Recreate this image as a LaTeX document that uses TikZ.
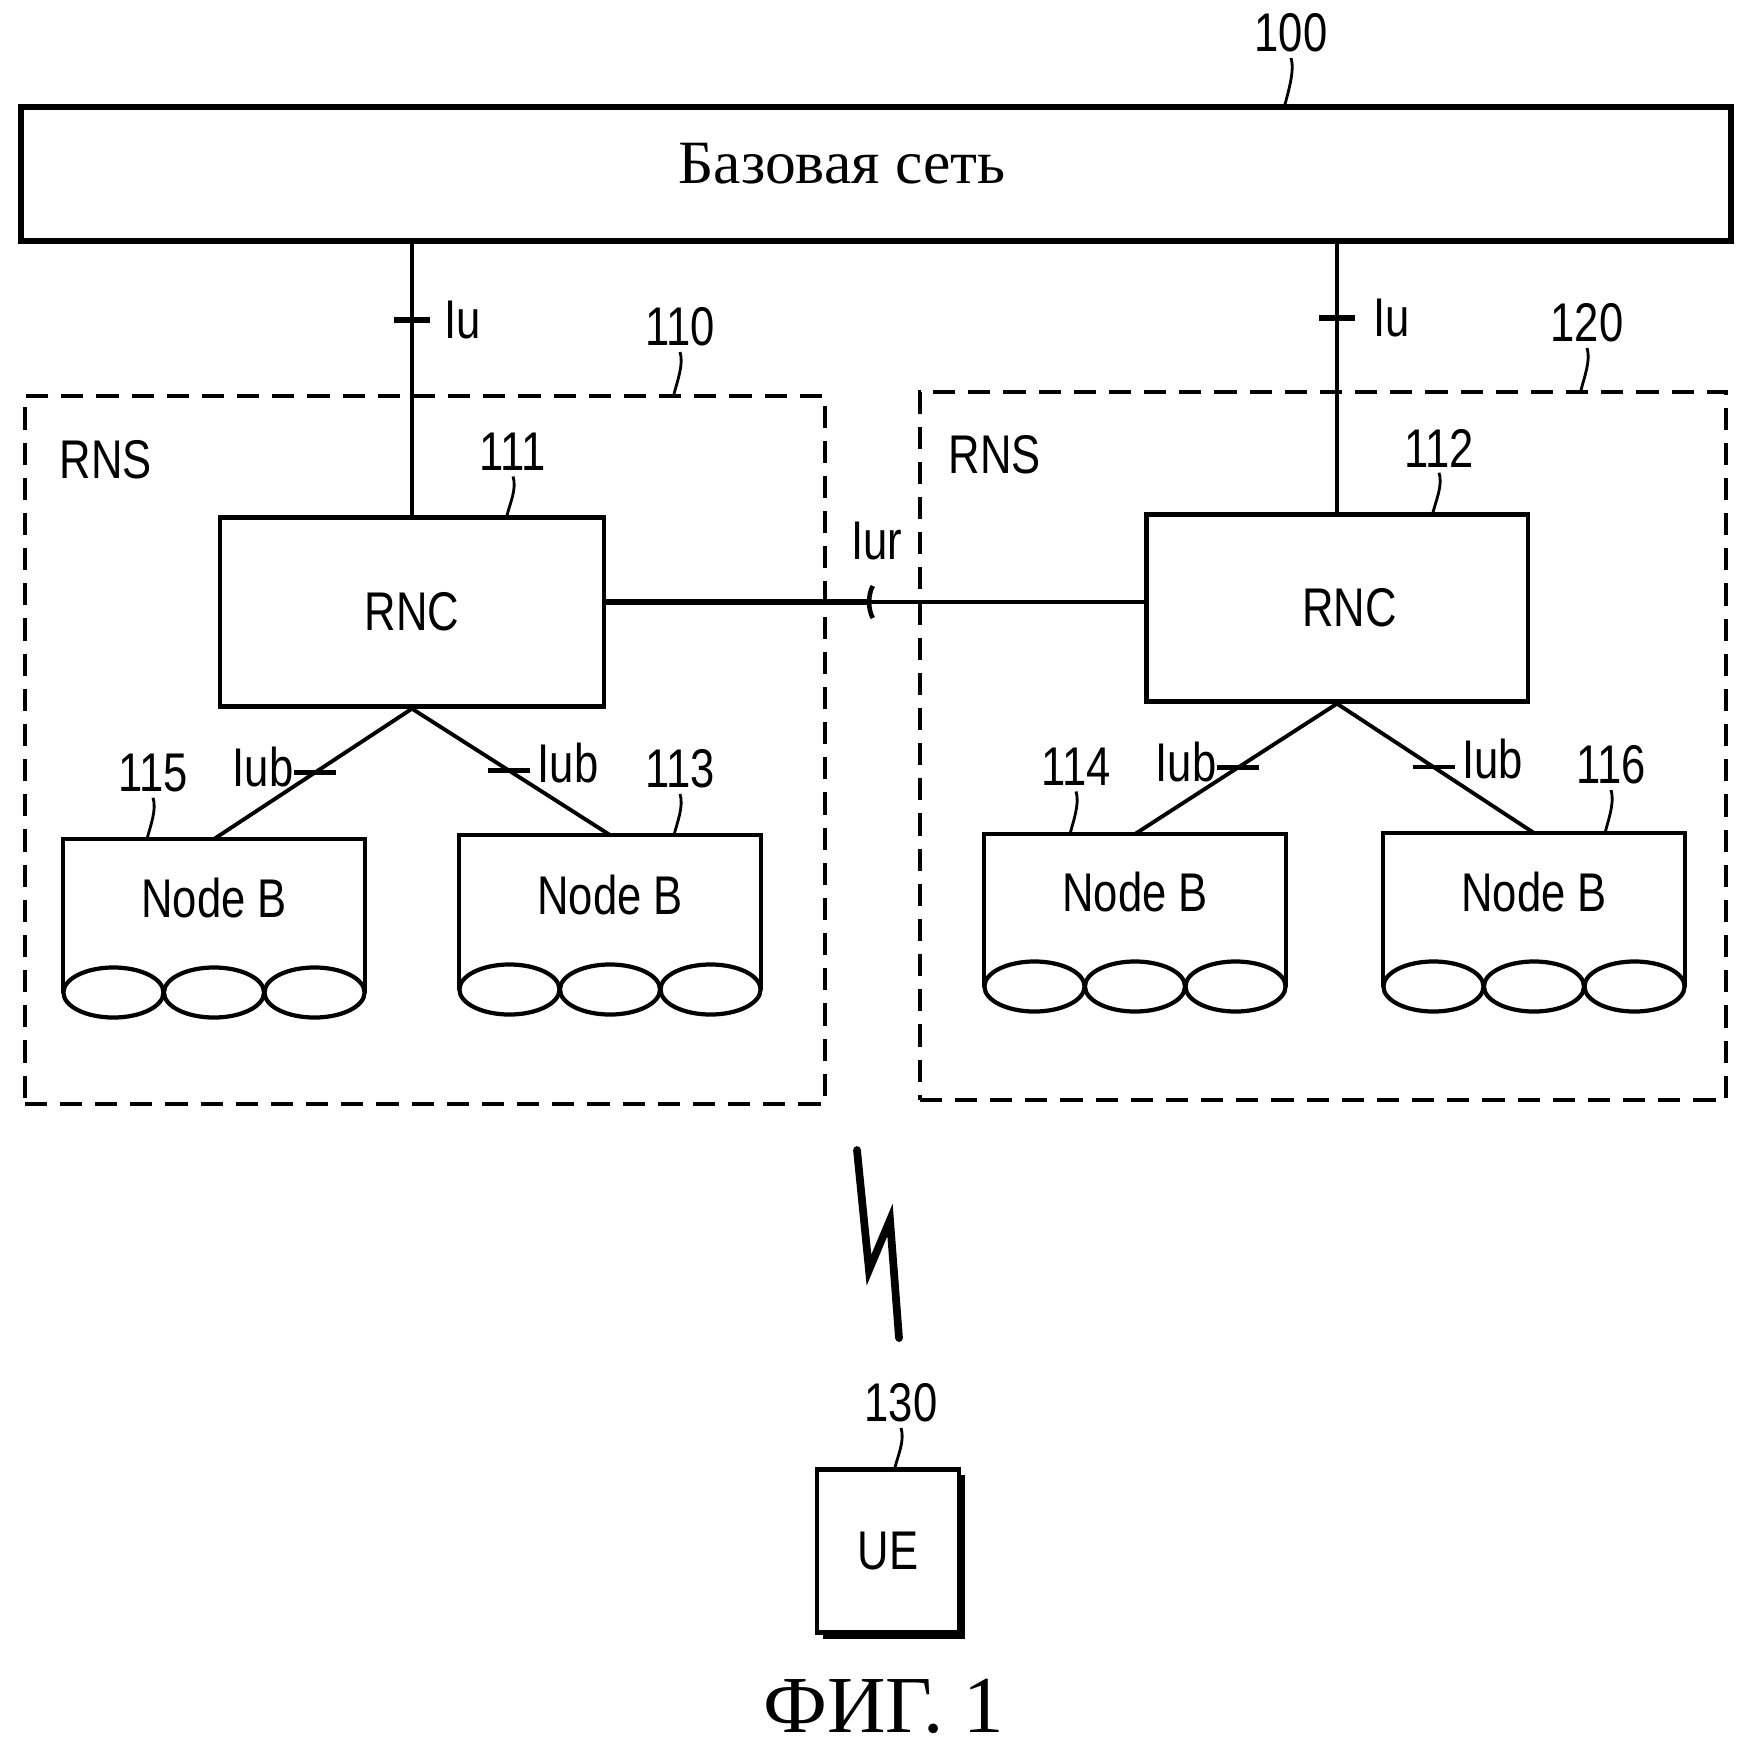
\documentclass[tikz,border=0pt]{standalone}
\usepackage{fontspec}
\setmainfont{Liberation Serif}
\newfontfamily\labfont[FakeStretch=0.8]{Liberation Sans}
\usetikzlibrary{calc,shadows}
\newcommand\leadr[2]{\draw[leader] ($(#1.south)+(0,5)$) .. controls +(4,12) and +(3,-12) .. ($(#1.south |- #2.north)+(-6,0)$);}
\begin{document}
\begin{tikzpicture}[x=0.01cm,y=-0.01cm,
  lab/.style={font=\labfont\fontsize{15.5}{18}\selectfont, inner sep=0pt},
  box/.style={draw, line width=1.2pt, inner sep=0pt},
  rns/.style={draw, line width=1pt, dash pattern=on 6.3pt off 3.7pt, inner sep=0pt},
  wire/.style={line width=0.9pt},
  wireb/.style={line width=1.1pt},
  tickm/.style={line width=1.3pt},
  leader/.style={line width=0.8pt},
  nbline/.style={line width=1.2pt},
  nbbody/.style={inner sep=0pt, minimum width=3cm, minimum height=1.52cm, anchor=north}
]
\useasboundingbox (0,0) rectangle (1744,1748);

% core network
\node[box, line width=1.7pt, minimum width=17.09cm, minimum height=1.33cm] (core) at (876,174) {};
\node[font=\fontsize{17.5}{20}\selectfont, inner sep=0pt] (coretext) at (842,164) {Базовая сеть};
\node[lab] (l100) at (1291,33) {100};
\leadr{l100}{core}

% RNS boxes
\node[rns, minimum width=8cm, minimum height=7.08cm] (rns1) at (425,750) {};
\node[rns, minimum width=8.06cm, minimum height=7.08cm] (rns2) at (1323,746) {};
\node[lab, anchor=west] (rnslab1) at (59,460) {RNS};
\node[lab, anchor=west] (rnslab2) at (948,455) {RNS};
\node[lab] (l110) at (680,327) {110};
\node[lab] (l120) at (1587,323) {120};
\leadr{l110}{rns1}
\leadr{l120}{rns2}

% RNCs
\node[box, lab, minimum width=3.84cm, minimum height=1.89cm] (rnc1) at (412,612) {RNC};
\node[box, lab, minimum width=3.81cm, minimum height=1.87cm] (rnc2) at (1337,608) {\hspace*{0.25cm}RNC};
\node[lab] (l111) at (513,452) {111};
\node[lab] (l112) at (1439,448) {112};
\leadr{l111}{rnc1}
\leadr{l112}{rnc2}

% Iu
\draw[wire] (rnc1.north) -- (rnc1.north |- core.south);
\draw[wire] (rnc2.north) -- (rnc2.north |- core.south);
\coordinate (iu1) at (rnc1.north |- 0,320);
\coordinate (iu2) at (rnc2.north |- 0,318);
\draw[tickm, line width=1.6pt] ($(iu1)+(-18,0)$) -- ($(iu1)+(18,0)$);
\draw[tickm, line width=1.6pt] ($(iu2)+(-18,0)$) -- ($(iu2)+(18,0)$);
\node[lab, anchor=west] (iulab1) at ($(iu1)+(32,0)$) {Iu};
\node[lab, anchor=west] (iulab2) at ($(iu2)+(36,0)$) {Iu};

% Iur
\coordinate (iurA) at (rnc1.east |- 0,602);
\coordinate (iurB) at (rnc2.west |- 0,602);
\path (iurA) -- (iurB) coordinate[pos=0.49] (iur);
\draw[line width=1.6pt] (iurA) -- (iur);
\draw[wire] (iur) -- (iurB);
\draw[tickm] ($(iur)+(3,-16)$) .. controls +(-5,8) and +(-5,-8) .. ($(iur)+(3,16)$);
\node[lab] (iurlab) at (877,541) {Iur};

% Node B
\node[nbbody] (nb115) at (214,839) {};
\node[nbbody, minimum height=1.53cm] (nb113) at (610,835) {};
\node[nbbody, minimum height=1.51cm] (nb114) at (1135,834) {};
\node[nbbody] (nb116) at (1534,833) {};
\foreach \nm in {nb115,nb113,nb114,nb116}{
  \draw[nbline] (\nm.south west) -- (\nm.north west) -- (\nm.north east) -- (\nm.south east);
  \foreach \f in {1,3,5}
    \draw[nbline] ($(\nm.south west)!\f/6!(\nm.south east)$) ellipse [x radius=0.5cm, y radius=0.25cm];
}
\node[lab] (nbt115) at ($(nb115.north)+(0,59)$) {Node B};
\node[lab] (nbt113) at ($(nb113.north)+(0,60)$) {Node B};
\node[lab] (nbt114) at ($(nb114.north)+(0,58)$) {Node B};
\node[lab] (nbt116) at ($(nb116.north)+(0,59)$) {Node B};
\node[lab] (l115) at (153,773) {115};
\node[lab] (l113) at (680,769) {113};
\node[lab] (l114) at (1076,767) {114};
\node[lab] (l116) at (1611,765) {116};
\leadr{l115}{nb115}
\leadr{l113}{nb113}
\leadr{l114}{nb114}
\leadr{l116}{nb116}

% Iub
\draw[wireb] (rnc1.south) -- coordinate[pos=0.49] (ib1) (nb115.north);
\draw[wireb] (rnc1.south) -- coordinate[pos=0.49] (ib2) (nb113.north);
\draw[wireb] (rnc2.south) -- coordinate[pos=0.49] (ib3) (nb114.north);
\draw[wireb] (rnc2.south) -- coordinate[pos=0.49] (ib4) (nb116.north);
\foreach \c in {ib1,ib2,ib3,ib4}
  \draw[tickm] ($(\c)+(-21,0)$) -- ($(\c)+(21,0)$);
\node[lab, anchor=east] (iub1) at ($(ib1)+(-21,-6)$) {Iub};
\node[lab, anchor=west] (iub2) at ($(ib2)+(28,-8)$) {Iub};
\node[lab, anchor=east] (iub3) at ($(ib3)+(-21,-6)$) {Iub};
\node[lab, anchor=west] (iub4) at ($(ib4)+(28,-8)$) {Iub};

% radio link
\draw[line width=2.2pt, line join=miter, line cap=round] (857,1150) -- (869,1270) -- (890,1220) -- (899,1338);

% UE
\node[box, lab, fill=white, minimum width=1.42cm, minimum height=1.63cm,
  drop shadow={shadow xshift=0.06cm, shadow yshift=-0.06cm, fill=black, opacity=1}] (ue) at (888,1551) {UE};
\node[lab] (l130) at (901,1403) {130};
\leadr{l130}{ue}

\node[font=\fontsize{23}{26}\selectfont, inner sep=0pt] (fig) at (884,1706) {ФИГ. 1};
\end{tikzpicture}
\end{document}
